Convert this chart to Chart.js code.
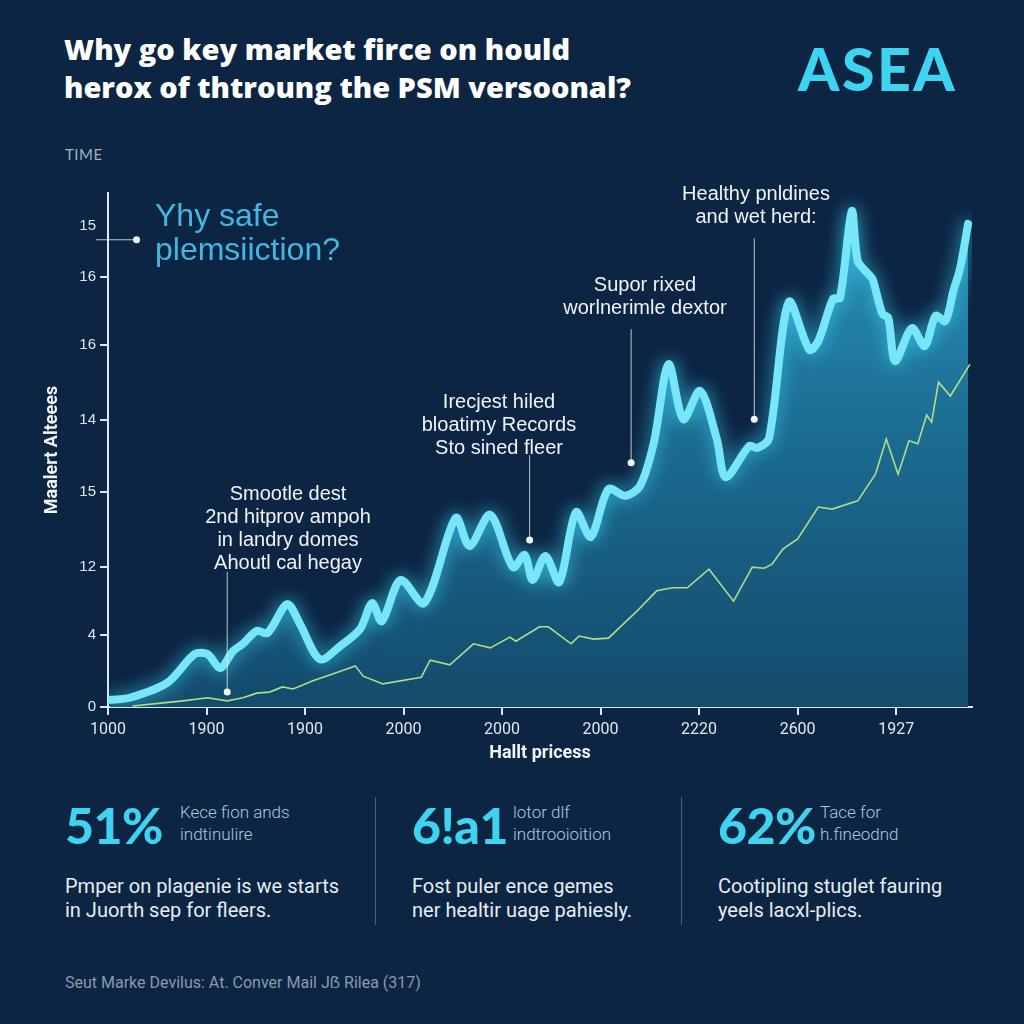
<!DOCTYPE html>
<html>
<head>
<meta charset="utf-8">
<script src="https://cdn.jsdelivr.net/npm/chart.js@4.4.1/dist/chart.umd.min.js"></script>
<style>
  body { margin: 0; width: 1024px; height: 1024px; overflow: hidden; position: relative;
         background: #0c2543; font-family: 'Lato', 'Noto Sans', sans-serif; color: #fff; }
  .abs { position: absolute; }
  #title { left: 64px; top: 30px; font-family: 'Open Sans', 'Lato', sans-serif; font-size: 29px; font-weight: 800; line-height: 38px; letter-spacing: 0; }
  #brand { left: 798px; top: 33px; font-size: 59px; font-weight: 900; color: #3fd3f2; letter-spacing: 2.5px; }
  #time { left: 65px; top: 145px; font-size: 15px; color: #9fb0c2; letter-spacing: 0.5px; }
  #chartBox { left: 0; top: 180px; width: 1000px; height: 600px; }
  .note { color: #f0f4f8; font-family: 'Liberation Sans', Arial, sans-serif; font-size: 20px; line-height: 23px; text-align: center; transform: translateX(-50%); white-space: nowrap; }
  #ask { left: 155px; top: 198px; color: #45b6e2; font-family: 'Liberation Sans', Arial, sans-serif; font-size: 32px; line-height: 34px; }
  .big { font-size: 50px; font-weight: 900; color: #3fd3f2; top: 795px; letter-spacing: -0.5px; }
  .side { font-family: 'Roboto', sans-serif; font-weight: 300; font-size: 17px; line-height: 22px; color: #a9c8e2; top: 801px; }
  .body { font-family: 'Roboto', sans-serif; font-size: 20px; line-height: 24px; color: #e6edf3; top: 874px; }
  .div { width: 1px; top: 797px; height: 128px; background: #4a6079; }
  #foot { left: 65px; top: 973px; font-family: 'Roboto', sans-serif; font-size: 16px; color: #8a9aab; }
</style>
</head>
<body>
<div id="title" class="abs">Why go key market firce on hould<br>herox of thtroung the PSM versoonal?</div>
<div id="brand" class="abs">ASEA</div>
<div id="time" class="abs">TIME</div>

<div id="chartBox" class="abs"><canvas id="chart"></canvas></div>

<div id="ask" class="abs">Yhy safe<br>plemsiiction?</div>
<div class="abs note" style="left:288px; top:482px">Smootle dest<br>2nd hitprov ampoh<br>in landry domes<br>Ahoutl cal hegay</div>
<div class="abs note" style="left:499px; top:390px">Irecjest hiled<br>bloatimy Records<br>Sto sined fleer</div>
<div class="abs note" style="left:645px; top:273px">Supor rixed<br>worlnerimle dextor</div>
<div class="abs note" style="left:756px; top:182px">Healthy pnldines<br>and wet herd:</div>

<div class="abs big" style="left:65px">51%</div>
<div class="abs side" style="left:180px">Kece fion ands<br>indtinulire</div>
<div class="abs body" style="left:65px">Pmper on plagenie is we starts<br>in Juorth sep for fleers.</div>
<div class="abs div" style="left:375px"></div>
<div class="abs big" style="left:412px">6!a1</div>
<div class="abs side" style="left:513px">lotor dlf<br>indtrooioition</div>
<div class="abs body" style="left:412px">Fost puler ence gemes<br>ner healtir uage pahiesly.</div>
<div class="abs div" style="left:681px"></div>
<div class="abs big" style="left:718px">62%</div>
<div class="abs side" style="left:820px">Tace for<br>h.fineodnd</div>
<div class="abs body" style="left:718px">Cootipling stuglet fauring<br>yeels lacxl-plics.</div>

<div id="foot" class="abs">Seut Marke Devilus: At. Conver Mail Jẞ Rilea (317)</div>

<script>
// x ticks (positions and labels as printed)
const xTickPos = [0, 100, 200, 300, 400, 500, 600, 700, 800];
const xTickLabels = ['1000', '1900', '1900', '2000', '2000', '2000', '2220', '2600', '1927'];
// y ticks (uneven, as printed)
const yTickPos = [0, 14.0, 27.2, 41.8, 55.8, 70.4, 83.7, 93.6];
const yTickLabels = ['0', '4', '12', '15', '14', '16', '16', '15'];

// main (glowing) series
const mainX = [2, 22, 60, 88, 101, 114, 127, 137, 151, 162, 182, 195, 215, 236, 256, 268, 278, 297, 321, 353,
  367, 388, 411, 423, 431, 444, 458, 475, 490, 508, 525, 540, 554, 569, 584, 601, 618, 627, 651, 659,
  671, 691, 712, 721, 736, 743, 755, 761, 771, 776, 786, 792, 799, 816, 829, 840, 850, 858, 865, 873];
const mainY = [1.4, 1.8, 4.7, 10.3, 10.3, 7.6, 10.9, 12.3, 14.8, 14.4, 20.0, 16.1, 9.3, 11.9, 15.2, 20.2, 16.7, 24.7, 20.2, 36.8,
  31.3, 37.4, 27.2, 29.6, 24.7, 29.4, 24.3, 37.9, 33.1, 42.4, 41.1, 43.0, 51.4, 66.7, 56.0, 61.5, 52.1, 44.7, 50.8, 50.4,
  52.3, 78.8, 69.5, 71.2, 79.4, 79.6, 96.5, 86.8, 84.4, 83.3, 76.5, 75.7, 67.3, 73.7, 70.2, 76.1, 75.1, 80.9, 85.4, 94.0];

// thin secondary series
const lowX = [25, 56, 76, 101, 121, 137, 151, 164, 177, 188, 208, 228, 251, 259, 279, 318, 327, 347, 371, 388,
  408, 414, 438, 447, 470, 478, 493, 508, 535, 557, 573, 588, 610, 635, 654, 666, 674, 685, 700, 721,
  735, 761, 779, 790, 802, 813, 822, 831, 836, 843, 855, 875];
const lowY = [0.2, 0.8, 1.2, 1.8, 1.2, 1.8, 2.7, 2.9, 3.9, 3.5, 5.1, 6.4, 8.0, 6.0, 4.5, 5.8, 9.1, 8.2, 12.3, 11.5,
  13.6, 12.8, 15.6, 15.6, 12.3, 13.8, 13.2, 13.4, 18.3, 22.6, 23.2, 23.2, 26.8, 20.6, 27.2, 27.0, 27.8, 30.7, 32.7, 38.9,
  38.5, 40.1, 45.3, 52.1, 45.3, 51.8, 51.2, 56.8, 55.4, 63.2, 60.5, 66.7];

// leader lines for the notes: [x, top y, dot y]
const leaders = [[656, 91.2, 56.0], [531, 73.5, 47.5], [428, 49.0, 32.5], [121, 26.3, 2.9]];

const pts = (xs, ys) => xs.map((x, i) => ({ x: x, y: ys[i] }));

const glow = {
  id: 'glow',
  beforeDatasetDraw(chart, args) {
    if (args.index !== 1) return;
    const c = chart.ctx;
    c.save();
    c.shadowColor = 'rgba(60,210,245,0.85)';
    c.shadowBlur = 18;
  },
  afterDatasetDraw(chart, args) {
    if (args.index !== 1) return;
    chart.ctx.restore();
  }
};

const leaderLines = {
  id: 'leaders',
  afterDatasetsDraw(chart) {
    const c = chart.ctx, xs = chart.scales.x, ys = chart.scales.y;
    c.save();
    c.strokeStyle = 'rgba(230,238,245,0.8)';
    c.fillStyle = '#f2f6fa';
    c.lineWidth = 1;
    leaders.forEach(l => {
      const px = xs.getPixelForValue(l[0]);
      c.beginPath();
      c.moveTo(px, ys.getPixelForValue(l[1]));
      c.lineTo(px, ys.getPixelForValue(l[2]));
      c.stroke();
      c.beginPath();
      c.arc(px, ys.getPixelForValue(l[2]), 3.5, 0, Math.PI * 2);
      c.fill();
    });
    // pointer from the top tick towards the question
    const py = ys.getPixelForValue(90.9);
    c.beginPath();
    c.moveTo(xs.left - 12, py);
    c.lineTo(xs.getPixelForValue(29), py);
    c.stroke();
    c.beginPath();
    c.arc(xs.getPixelForValue(29), py, 3.5, 0, Math.PI * 2);
    c.fill();
    c.restore();
  }
};

const ctx = document.getElementById('chart').getContext('2d');
new Chart(ctx, {
  type: 'line',
  data: {
    datasets: [{
      data: pts(lowX, lowY),
      borderColor: '#b4da8e',
      borderWidth: 1.6,
      pointRadius: 0,
      tension: 0,
      fill: false
    }, {
      data: pts(mainX, mainY),
      borderColor: '#78e6f9',
      borderWidth: 8,
      pointRadius: 0,
      tension: 0.3,
      borderJoinStyle: 'round',
      borderCapStyle: 'round',
      fill: 'origin',
      backgroundColor: c => {
        const a = c.chart.chartArea;
        if (!a) return '#155372';
        const g = c.chart.ctx.createLinearGradient(0, a.top, 0, a.bottom);
        g.addColorStop(0, '#2b95bd');
        g.addColorStop(0.45, '#1c6d92');
        g.addColorStop(1, '#134b6c');
        return g;
      }
    }]
  },
  options: {
    responsive: true,
    maintainAspectRatio: false,
    animation: false,
    layout: { padding: { top: 12, right: 28, left: 0, bottom: 0 } },
    plugins: { legend: { display: false }, tooltip: { enabled: false } },
    scales: {
      x: {
        type: 'linear', min: 0, max: 877,
        afterBuildTicks: s => { s.ticks = xTickPos.map(v => ({ value: v })); },
        afterFit: s => { s.height = 73; },
        ticks: {
          color: '#dfe7ef', padding: 5,
          font: { family: "'Liberation Sans Narrow', 'Roboto', sans-serif", size: 16 },
          callback: (v, i) => xTickLabels[i]
        },
        grid: { display: true, drawOnChartArea: false, drawTicks: true, tickLength: 8, color: '#dfe8f0', lineWidth: 2 },
        border: { display: true, color: '#dfe8f0', width: 2 },
        title: {
          display: true, text: 'Hallt pricess', color: '#f2f5f8',
          font: { family: "'Liberation Sans Narrow', 'Roboto', sans-serif", size: 18, weight: 'bold' },
          padding: { top: 0, bottom: 16 }
        }
      },
      y: {
        min: 0, max: 100,
        afterBuildTicks: s => { s.ticks = yTickPos.map(v => ({ value: v })); },
        afterFit: s => { s.width = 108; },
        ticks: {
          color: '#dfe7ef', padding: 4,
          font: { family: "'Liberation Sans', Arial, sans-serif", size: 15 },
          callback: (v, i) => yTickLabels[i]
        },
        grid: {
          display: true, drawOnChartArea: false, drawTicks: true, tickLength: 8, lineWidth: 2,
          color: c => (c.tick && c.tick.value > 90) ? 'rgba(0,0,0,0)' : '#dfe8f0'
        },
        border: { display: true, color: '#dfe8f0', width: 2 },
        title: {
          display: true, text: 'Maalert Alteees', color: '#f2f5f8',
          font: { family: "'Liberation Sans Narrow', 'Roboto', sans-serif", size: 18, weight: 'bold' },
          padding: { top: 42, bottom: 0 }
        }
      }
    }
  },
  plugins: [glow, leaderLines]
});
</script>
</body>
</html>
